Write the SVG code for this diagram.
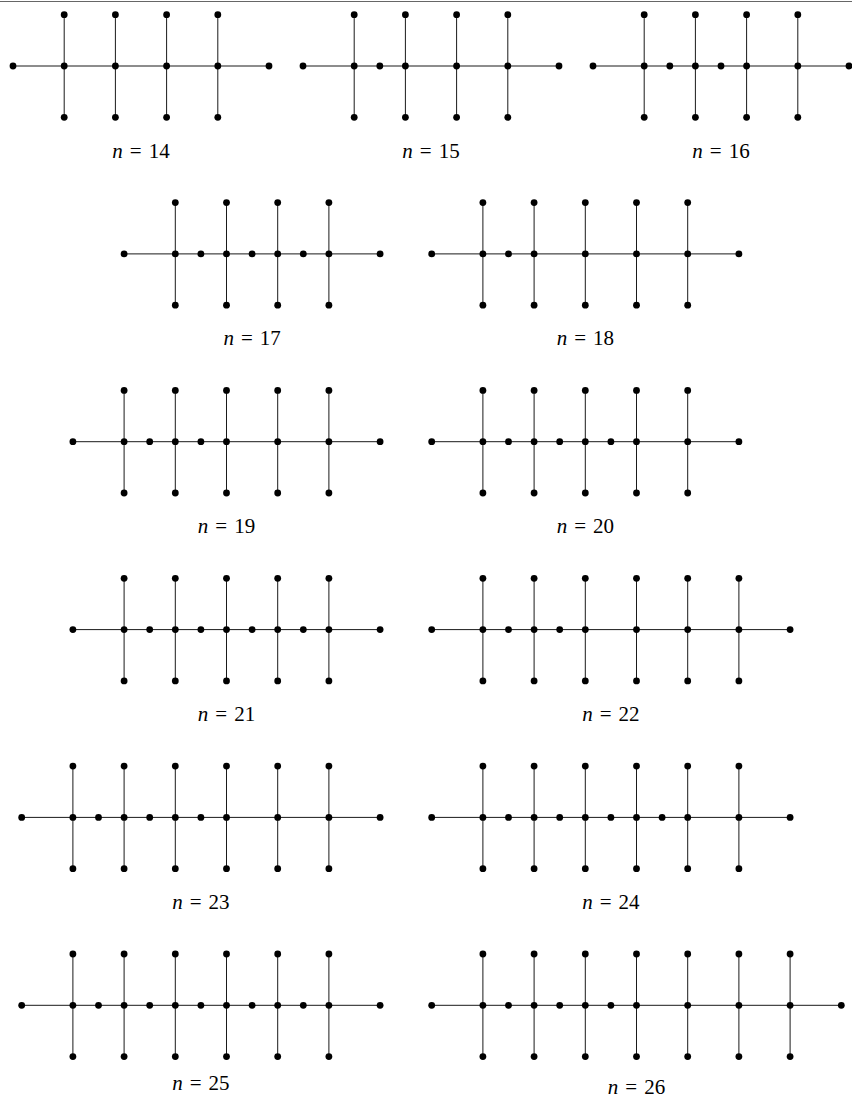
<svg xmlns="http://www.w3.org/2000/svg" xmlns:xlink="http://www.w3.org/1999/xlink" width="852" height="1098" viewBox="0 0 852 1098">
<style>
.e{fill:none;stroke:#1a1a1a;stroke-width:1}
.lbl{font-family:"Liberation Serif","Times New Roman",serif;font-size:21px;fill:#000;text-anchor:middle}
.it{font-style:italic}
</style>
<defs>
<circle id="d" r="3.4" fill="#000"/>
<g id="h"><circle cy="-51.3" r="3.4" fill="#000"/><circle r="3.4" fill="#000"/><circle cy="51.3" r="3.4" fill="#000"/></g>
</defs>
<rect width="852" height="1098" fill="#fff"/>
<line x1="0" y1="1.5" x2="852" y2="1.5" stroke="#666" stroke-width="1"/>
<g id="connectors">
<path class="e" d="M13 66H269M64.2 14.7V117.3M115.4 14.7V117.3M166.6 14.7V117.3M217.8 14.7V117.3"/>
<path class="e" d="M303 66H559M354.2 14.7V117.3M405.4 14.7V117.3M456.6 14.7V117.3M507.8 14.7V117.3"/>
<path class="e" d="M593 66H849M644.2 14.7V117.3M695.4 14.7V117.3M746.6 14.7V117.3M797.8 14.7V117.3"/>
<path class="e" d="M124.1 253.9H380.1M175.3 202.6V305.2M226.5 202.6V305.2M277.7 202.6V305.2M328.9 202.6V305.2"/>
<path class="e" d="M431.7 253.9H738.9M482.9 202.6V305.2M534.1 202.6V305.2M585.3 202.6V305.2M636.5 202.6V305.2M687.7 202.6V305.2"/>
<path class="e" d="M72.9 441.7H380.1M124.1 390.4V493M175.3 390.4V493M226.5 390.4V493M277.7 390.4V493M328.9 390.4V493"/>
<path class="e" d="M431.7 441.7H738.9M482.9 390.4V493M534.1 390.4V493M585.3 390.4V493M636.5 390.4V493M687.7 390.4V493"/>
<path class="e" d="M72.9 629.6H380.1M124.1 578.3V680.9M175.3 578.3V680.9M226.5 578.3V680.9M277.7 578.3V680.9M328.9 578.3V680.9"/>
<path class="e" d="M431.7 629.6H790.1M482.9 578.3V680.9M534.1 578.3V680.9M585.3 578.3V680.9M636.5 578.3V680.9M687.7 578.3V680.9M738.9 578.3V680.9"/>
<path class="e" d="M21.7 817.4H380.1M72.9 766.1V868.7M124.1 766.1V868.7M175.3 766.1V868.7M226.5 766.1V868.7M277.7 766.1V868.7M328.9 766.1V868.7"/>
<path class="e" d="M431.7 817.4H790.1M482.9 766.1V868.7M534.1 766.1V868.7M585.3 766.1V868.7M636.5 766.1V868.7M687.7 766.1V868.7M738.9 766.1V868.7"/>
<path class="e" d="M21.7 1005.3H380.1M72.9 954V1056.6M124.1 954V1056.6M175.3 954V1056.6M226.5 954V1056.6M277.7 954V1056.6M328.9 954V1056.6"/>
<path class="e" d="M431.7 1005.3H841.3M482.9 954V1056.6M534.1 954V1056.6M585.3 954V1056.6M636.5 954V1056.6M687.7 954V1056.6M738.9 954V1056.6M790.1 954V1056.6"/>
</g>
<g id="g14">
<use xlink:href="#d" x="13" y="66"/><use xlink:href="#d" x="269" y="66"/>
<use xlink:href="#h" x="64.2" y="66"/><use xlink:href="#h" x="115.4" y="66"/><use xlink:href="#h" x="166.6" y="66"/><use xlink:href="#h" x="217.8" y="66"/>
<text class="lbl" x="141" y="157.5"><tspan class="it">n</tspan><tspan dx="7">=</tspan><tspan dx="7">14</tspan></text>
</g>
<g id="g15">
<use xlink:href="#d" x="303" y="66"/><use xlink:href="#d" x="559" y="66"/><use xlink:href="#d" x="379.8" y="66"/>
<use xlink:href="#h" x="354.2" y="66"/><use xlink:href="#h" x="405.4" y="66"/><use xlink:href="#h" x="456.6" y="66"/><use xlink:href="#h" x="507.8" y="66"/>
<text class="lbl" x="431" y="157.5"><tspan class="it">n</tspan><tspan dx="7">=</tspan><tspan dx="7">15</tspan></text>
</g>
<g id="g16">
<use xlink:href="#d" x="593" y="66"/><use xlink:href="#d" x="849" y="66"/><use xlink:href="#d" x="669.8" y="66"/><use xlink:href="#d" x="721" y="66"/>
<use xlink:href="#h" x="644.2" y="66"/><use xlink:href="#h" x="695.4" y="66"/><use xlink:href="#h" x="746.6" y="66"/><use xlink:href="#h" x="797.8" y="66"/>
<text class="lbl" x="721" y="157.5"><tspan class="it">n</tspan><tspan dx="7">=</tspan><tspan dx="7">16</tspan></text>
</g>
<g id="g17">
<use xlink:href="#d" x="124.1" y="253.9"/><use xlink:href="#d" x="380.1" y="253.9"/><use xlink:href="#d" x="200.9" y="253.9"/><use xlink:href="#d" x="252.1" y="253.9"/><use xlink:href="#d" x="303.3" y="253.9"/>
<use xlink:href="#h" x="175.3" y="253.9"/><use xlink:href="#h" x="226.5" y="253.9"/><use xlink:href="#h" x="277.7" y="253.9"/><use xlink:href="#h" x="328.9" y="253.9"/>
<text class="lbl" x="252.1" y="345.4"><tspan class="it">n</tspan><tspan dx="7">=</tspan><tspan dx="7">17</tspan></text>
</g>
<g id="g18">
<use xlink:href="#d" x="431.7" y="253.9"/><use xlink:href="#d" x="738.9" y="253.9"/><use xlink:href="#d" x="508.5" y="253.9"/>
<use xlink:href="#h" x="482.9" y="253.9"/><use xlink:href="#h" x="534.1" y="253.9"/><use xlink:href="#h" x="585.3" y="253.9"/><use xlink:href="#h" x="636.5" y="253.9"/><use xlink:href="#h" x="687.7" y="253.9"/>
<text class="lbl" x="585.3" y="345.4"><tspan class="it">n</tspan><tspan dx="7">=</tspan><tspan dx="7">18</tspan></text>
</g>
<g id="g19">
<use xlink:href="#d" x="72.9" y="441.7"/><use xlink:href="#d" x="380.1" y="441.7"/><use xlink:href="#d" x="149.7" y="441.7"/><use xlink:href="#d" x="200.9" y="441.7"/>
<use xlink:href="#h" x="124.1" y="441.7"/><use xlink:href="#h" x="175.3" y="441.7"/><use xlink:href="#h" x="226.5" y="441.7"/><use xlink:href="#h" x="277.7" y="441.7"/><use xlink:href="#h" x="328.9" y="441.7"/>
<text class="lbl" x="226.5" y="533.2"><tspan class="it">n</tspan><tspan dx="7">=</tspan><tspan dx="7">19</tspan></text>
</g>
<g id="g20">
<use xlink:href="#d" x="431.7" y="441.7"/><use xlink:href="#d" x="738.9" y="441.7"/><use xlink:href="#d" x="508.5" y="441.7"/><use xlink:href="#d" x="559.7" y="441.7"/><use xlink:href="#d" x="610.9" y="441.7"/>
<use xlink:href="#h" x="482.9" y="441.7"/><use xlink:href="#h" x="534.1" y="441.7"/><use xlink:href="#h" x="585.3" y="441.7"/><use xlink:href="#h" x="636.5" y="441.7"/><use xlink:href="#h" x="687.7" y="441.7"/>
<text class="lbl" x="585.3" y="533.2"><tspan class="it">n</tspan><tspan dx="7">=</tspan><tspan dx="7">20</tspan></text>
</g>
<g id="g21">
<use xlink:href="#d" x="72.9" y="629.6"/><use xlink:href="#d" x="380.1" y="629.6"/><use xlink:href="#d" x="149.7" y="629.6"/><use xlink:href="#d" x="200.9" y="629.6"/><use xlink:href="#d" x="252.1" y="629.6"/><use xlink:href="#d" x="303.3" y="629.6"/>
<use xlink:href="#h" x="124.1" y="629.6"/><use xlink:href="#h" x="175.3" y="629.6"/><use xlink:href="#h" x="226.5" y="629.6"/><use xlink:href="#h" x="277.7" y="629.6"/><use xlink:href="#h" x="328.9" y="629.6"/>
<text class="lbl" x="226.5" y="721.1"><tspan class="it">n</tspan><tspan dx="7">=</tspan><tspan dx="7">21</tspan></text>
</g>
<g id="g22">
<use xlink:href="#d" x="431.7" y="629.6"/><use xlink:href="#d" x="790.1" y="629.6"/><use xlink:href="#d" x="508.5" y="629.6"/><use xlink:href="#d" x="559.7" y="629.6"/>
<use xlink:href="#h" x="482.9" y="629.6"/><use xlink:href="#h" x="534.1" y="629.6"/><use xlink:href="#h" x="585.3" y="629.6"/><use xlink:href="#h" x="636.5" y="629.6"/><use xlink:href="#h" x="687.7" y="629.6"/><use xlink:href="#h" x="738.9" y="629.6"/>
<text class="lbl" x="610.9" y="721.1"><tspan class="it">n</tspan><tspan dx="7">=</tspan><tspan dx="7">22</tspan></text>
</g>
<g id="g23">
<use xlink:href="#d" x="21.7" y="817.4"/><use xlink:href="#d" x="380.1" y="817.4"/><use xlink:href="#d" x="98.5" y="817.4"/><use xlink:href="#d" x="149.7" y="817.4"/><use xlink:href="#d" x="200.9" y="817.4"/>
<use xlink:href="#h" x="72.9" y="817.4"/><use xlink:href="#h" x="124.1" y="817.4"/><use xlink:href="#h" x="175.3" y="817.4"/><use xlink:href="#h" x="226.5" y="817.4"/><use xlink:href="#h" x="277.7" y="817.4"/><use xlink:href="#h" x="328.9" y="817.4"/>
<text class="lbl" x="200.9" y="908.9"><tspan class="it">n</tspan><tspan dx="7">=</tspan><tspan dx="7">23</tspan></text>
</g>
<g id="g24">
<use xlink:href="#d" x="431.7" y="817.4"/><use xlink:href="#d" x="790.1" y="817.4"/><use xlink:href="#d" x="508.5" y="817.4"/><use xlink:href="#d" x="559.7" y="817.4"/><use xlink:href="#d" x="610.9" y="817.4"/><use xlink:href="#d" x="662.1" y="817.4"/>
<use xlink:href="#h" x="482.9" y="817.4"/><use xlink:href="#h" x="534.1" y="817.4"/><use xlink:href="#h" x="585.3" y="817.4"/><use xlink:href="#h" x="636.5" y="817.4"/><use xlink:href="#h" x="687.7" y="817.4"/><use xlink:href="#h" x="738.9" y="817.4"/>
<text class="lbl" x="610.9" y="908.9"><tspan class="it">n</tspan><tspan dx="7">=</tspan><tspan dx="7">24</tspan></text>
</g>
<g id="g25">
<use xlink:href="#d" x="21.7" y="1005.3"/><use xlink:href="#d" x="380.1" y="1005.3"/><use xlink:href="#d" x="98.5" y="1005.3"/><use xlink:href="#d" x="149.7" y="1005.3"/><use xlink:href="#d" x="200.9" y="1005.3"/><use xlink:href="#d" x="252.1" y="1005.3"/><use xlink:href="#d" x="303.3" y="1005.3"/>
<use xlink:href="#h" x="72.9" y="1005.3"/><use xlink:href="#h" x="124.1" y="1005.3"/><use xlink:href="#h" x="175.3" y="1005.3"/><use xlink:href="#h" x="226.5" y="1005.3"/><use xlink:href="#h" x="277.7" y="1005.3"/><use xlink:href="#h" x="328.9" y="1005.3"/>
<text class="lbl" x="200.9" y="1090"><tspan class="it">n</tspan><tspan dx="7">=</tspan><tspan dx="7">25</tspan></text>
</g>
<g id="g26">
<use xlink:href="#d" x="431.7" y="1005.3"/><use xlink:href="#d" x="841.3" y="1005.3"/><use xlink:href="#d" x="508.5" y="1005.3"/><use xlink:href="#d" x="559.7" y="1005.3"/><use xlink:href="#d" x="610.9" y="1005.3"/>
<use xlink:href="#h" x="482.9" y="1005.3"/><use xlink:href="#h" x="534.1" y="1005.3"/><use xlink:href="#h" x="585.3" y="1005.3"/><use xlink:href="#h" x="636.5" y="1005.3"/><use xlink:href="#h" x="687.7" y="1005.3"/><use xlink:href="#h" x="738.9" y="1005.3"/><use xlink:href="#h" x="790.1" y="1005.3"/>
<text class="lbl" x="636.5" y="1093.5"><tspan class="it">n</tspan><tspan dx="7">=</tspan><tspan dx="7">26</tspan></text>
</g>
</svg>
